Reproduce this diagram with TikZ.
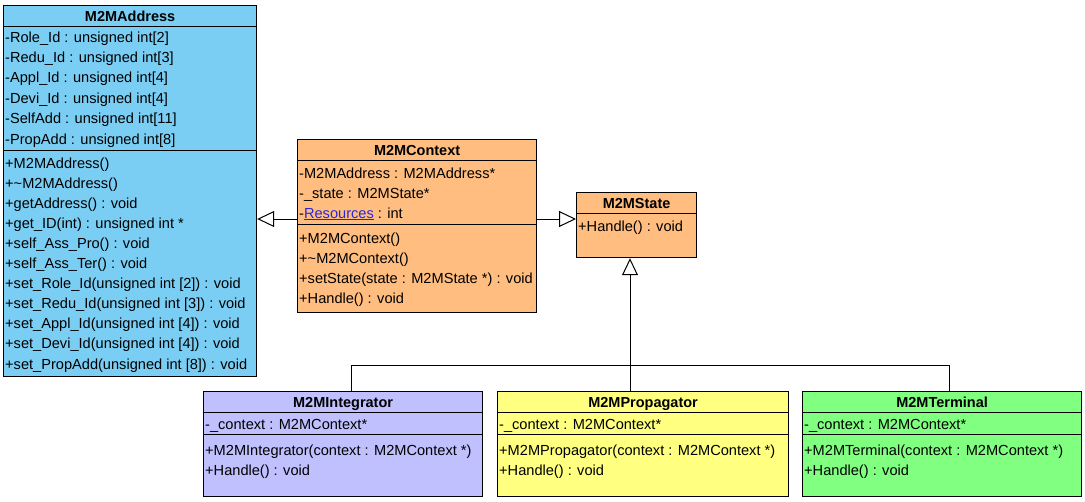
\documentclass[tikz,border=0pt]{standalone}
\usepackage{fontspec}
\setmainfont{Liberation Sans}
\usetikzlibrary{arrows.meta}

\definecolor{addrblue}{RGB}{122,206,244}
\definecolor{ctxorange}{RGB}{255,190,128}
\definecolor{integlilac}{RGB}{192,192,255}
\definecolor{propyellow}{RGB}{255,255,128}
\definecolor{termgreen}{RGB}{128,255,128}
\definecolor{linkblue}{RGB}{40,40,215}

\tikzset{
  classbox/.style={draw, line width=1.2pt, inner sep=0pt, anchor=north west},
  classname/.style={font=\fontsize{14.5}{16}\selectfont\bfseries, inner sep=0pt, anchor=base},
  member/.style={font=\fontsize{14.6}{16}\selectfont, inner sep=0pt, anchor=base west},
  separator/.style={line width=1pt},
  generalize/.style={line width=1pt, -{Triangle[open, length=17pt, width=16pt, fill=white]}},
  link/.style={line width=1pt}
}

\begin{document}
\begin{tikzpicture}[x=1pt, y=-1pt]
	\useasboundingbox (0,0) rectangle (1085,501);

	% M2MAddress
	\node[classbox, fill=addrblue, minimum width=253pt, minimum height=371pt] (addr) at (3,5) {};
	\node[classname] (addrname) at (addr.north |- 0,21) {M2MAddress};
	\draw[separator] (addr.west |- 0,26) -- (addr.east |- 0,26);
	\draw[separator] (addr.west |- 0,150) -- (addr.east |- 0,150);
	\foreach \t [count=\i from 0] in {-Role\_Id : unsigned int[2], -Redu\_Id : unsigned int[3],
		-Appl\_Id : unsigned int[4], -Devi\_Id : unsigned int[4],
		-SelfAdd : unsigned int[11], -PropAdd : unsigned int[8]}
		\node[member] (addra\i) at (5,42+20.4*\i) {\t};
	\foreach \t [count=\i from 0] in {+M2MAddress(), +\textasciitilde M2MAddress(),
		+getAddress() : void, +get\_ID(int) : unsigned int *,
		+self\_Ass\_Pro() : void, +self\_Ass\_Ter() : void,
		+set\_Role\_Id(unsigned int [2]) : void, +set\_Redu\_Id(unsigned int [3]) : void,
		+set\_Appl\_Id(unsigned int [4]) : void, +set\_Devi\_Id(unsigned int [4]) : void,
		+set\_PropAdd(unsigned int [8]) : void}
		\node[member] (addrm\i) at (5,168+20.1*\i) {\t};

	% M2MContext
	\node[classbox, fill=ctxorange, minimum width=239pt, minimum height=173pt] (ctx) at (297,139) {};
	\node[classname] (ctxname) at (ctx.north |- 0,155) {M2MContext};
	\draw[separator] (ctx.west |- 0,160) -- (ctx.east |- 0,160);
	\draw[separator] (ctx.west |- 0,224) -- (ctx.east |- 0,224);
	\node[member] (ctxa0) at (299,178) {-M2MAddress : M2MAddress*};
	\node[member] (ctxa1) at (299,198) {-\_state : M2MState*};
	\node[member] (ctxa2) at (299,218) {-\textcolor{linkblue}{\underline{Resources}} : int};
	\foreach \t [count=\i from 0] in {+M2MContext(), +\textasciitilde M2MContext(),
		+setState(state : M2MState *) : void, +Handle() : void}
		\node[member] (ctxm\i) at (299,243+20*\i) {\t};

	% M2MState
	\node[classbox, fill=ctxorange, minimum width=120pt, minimum height=65pt] (state) at (576,192) {};
	\node[classname] (statename) at (state.north |- 0,208) {M2MState};
	\draw[separator] (state.west |- 0,213) -- (state.east |- 0,213);
	\node[member] (statem0) at (578,231) {+Handle() : void};

	% concrete states
	\foreach \cls/\x/\w/\col/\nm in {integ/203/279/integlilac/M2MIntegrator,
		prop/497/291/propyellow/M2MPropagator, term/802/279/termgreen/M2MTerminal}{
		\node[classbox, fill=\col, minimum width=\w pt, minimum height=105pt] (\cls) at (\x,391) {};
		\node[classname] (\cls name) at (\cls.north |- 0,407) {\nm};
		\draw[separator] (\cls.west |- 0,412) -- (\cls.east |- 0,412);
		\draw[separator] (\cls.west |- 0,434) -- (\cls.east |- 0,434);
		\node[member] (\cls a0) at (\x+2,429) {-\_context : M2MContext*};
		\node[member] (\cls m0) at (\x+2,455) {+\nm(context : M2MContext *)};
		\node[member] (\cls m1) at (\x+2,475) {+Handle() : void};
	}

	% generalizations
	\draw[generalize] (ctx.west |- 0,219) -- (addr.east |- 0,219);
	\draw[generalize] (ctx.east |- 0,219) -- (state.west |- 0,219);

	\coordinate (bus) at (630,365);
	\coordinate (busl) at (351,365);
	\coordinate (busr) at (949,365);
	\draw[generalize] (bus) -- (state.south -| bus);
	\draw[link] (integ.north -| busl) -- (busl) -- (busr) -- (term.north -| busr);
	\draw[link] (prop.north -| bus) -- (bus);

\end{tikzpicture}
\end{document}
